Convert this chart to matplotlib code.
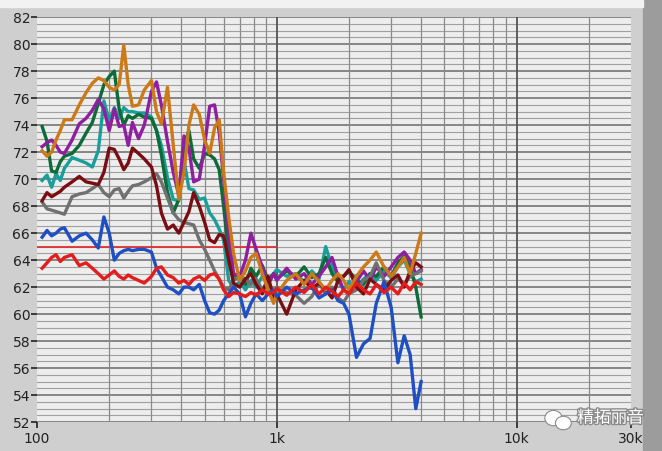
import matplotlib
matplotlib.use("Agg")
import matplotlib.pyplot as plt
import matplotlib.patheffects as pe
from matplotlib.patches import Ellipse
from matplotlib.ticker import FixedLocator, NullFormatter

# frequency points (Hz) shared by all measured curves
freq = [105, 110, 115, 120, 125, 130, 140, 150, 160, 170, 180, 190, 200, 210, 220,
        230, 240, 250, 265, 280, 300, 315, 330, 350, 370, 390, 410, 430, 450, 475,
        500, 525, 550, 575, 600, 630, 660, 700, 740, 780, 820, 870, 920, 970, 1000,
        1100, 1200, 1300, 1400, 1500, 1600, 1700, 1800, 1900, 2000, 2150, 2300, 2450,
        2600, 2800, 3000, 3200, 3400, 3600, 3800, 4000]

blue = [65.7, 66.2, 65.8, 66.0, 66.3, 66.4, 65.4, 65.8, 66.0, 65.5, 64.9, 67.2, 66.0, 64.0, 64.5,
        64.7, 64.8, 64.7, 64.8, 64.8, 64.6, 63.4, 62.8, 62.0, 61.8, 61.5, 62.0, 62.0, 61.8, 62.2,
        61.0, 60.1, 60.0, 60.3, 61.0, 61.5, 62.0, 61.5, 59.8, 60.8, 61.5, 61.0, 61.5, 61.8, 61.3,
        62.0, 61.5, 61.8, 62.0, 61.2, 61.5, 61.8, 61.0, 60.8, 60.0, 56.8, 57.8, 58.2,
        60.8, 62.4, 60.5, 56.4, 58.4, 57.0, 53.0, 55.0]

red = [63.4, 63.8, 64.2, 64.4, 63.9, 64.2, 64.4, 63.6, 63.8, 63.4, 63.0, 62.6, 62.9, 63.2, 62.8,
       62.6, 62.9, 62.7, 62.5, 62.3, 62.8, 63.4, 63.5, 62.9, 62.7, 62.3, 62.5, 62.2, 62.6, 62.8,
       62.5, 62.9, 63.0, 62.6, 61.8, 61.3, 61.6, 61.5, 61.3, 61.6, 61.4, 61.8, 61.5, 61.6, 61.9,
       61.4, 62.0, 61.6, 62.2, 61.5, 62.0, 61.7, 61.3, 61.8, 61.5, 62.3, 61.8, 61.5,
       62.2, 61.6, 62.0, 61.5, 62.3, 61.8, 62.4, 62.2]

grey = [68.3, 67.8, 67.7, 67.6, 67.5, 67.4, 68.7, 68.9, 69.0, 69.3, 69.6, 69.0, 68.7, 69.2, 69.3,
        68.6, 69.1, 69.5, 69.6, 69.8, 70.1, 70.4, 69.8, 68.6, 67.5, 67.0, 66.8, 66.7, 66.6, 65.5,
        64.8, 64.0, 63.2, 62.6, 62.0, 61.8, 62.5, 62.8, 62.6, 62.2, 62.6, 61.8, 62.4, 61.5, 62.0,
        61.6, 61.4, 60.8, 61.3, 62.3, 61.5, 62.0, 61.2, 60.9, 61.5, 61.8, 62.5, 62.8,
        63.8, 62.5, 62.0, 62.6, 62.2, 62.8, 63.0, 63.2]

maroon = [68.4, 69.0, 68.7, 68.9, 69.1, 69.4, 69.8, 70.2, 69.8, 69.7, 69.6, 70.5, 72.3, 72.2, 71.5,
          70.7, 71.2, 72.3, 71.9, 71.5, 70.9, 69.5, 67.5, 66.3, 66.6, 66.0, 66.8, 67.6, 69.0, 68.0,
          66.8, 65.5, 65.3, 65.9, 65.8, 64.0, 62.3, 62.0, 62.6, 63.0, 62.2, 61.5, 62.8, 61.2, 61.5,
          60.0, 61.8, 62.5, 61.9, 62.3, 61.8, 61.2, 62.5, 62.8, 63.3, 62.0, 61.5, 62.6,
          62.2, 61.8, 62.5, 62.9, 62.0, 63.2, 63.8, 63.5]

teal = [69.9, 70.3, 69.4, 70.4, 69.9, 70.8, 71.6, 71.4, 71.2, 70.9, 72.1, 75.8, 74.3, 75.3, 74.5,
        75.3, 75.0, 75.0, 74.9, 74.9, 74.6, 73.6, 72.5, 70.1, 68.5, 68.4, 71.4, 69.3, 69.2, 68.5,
        68.6, 67.5, 67.0, 66.3, 65.5, 62.5, 62.0, 62.4, 61.8, 62.5, 62.0, 62.8, 62.2, 63.0, 63.3,
        62.8, 63.0, 62.4, 63.2, 62.6, 65.0, 63.5, 62.5, 61.8, 62.4, 62.0, 62.6, 63.0,
        62.5, 63.2, 62.7, 63.5, 64.0, 63.0, 62.4, 62.6]

green = [73.9, 72.8, 70.6, 70.5, 71.3, 71.7, 71.9, 72.5, 73.4, 74.2, 75.6, 77.0, 77.6, 78.0, 75.2,
         74.0, 74.7, 74.5, 74.8, 74.6, 74.5, 73.6, 71.8, 69.0, 67.5, 68.5, 72.5, 73.6, 71.5, 70.8,
         71.9, 71.8, 71.5, 70.7, 68.0, 64.5, 62.8, 63.0, 62.2, 63.4, 62.8, 63.6, 62.5, 63.0, 62.6,
         63.2, 62.8, 63.5, 62.7, 63.0, 64.2, 63.0, 62.4, 62.8, 63.2, 62.5, 62.2, 63.0,
         62.8, 63.5, 62.8, 63.8, 64.3, 63.5, 62.0, 59.8]

purple = [72.4, 72.7, 72.9, 72.5, 72.0, 71.9, 72.9, 74.1, 74.5, 75.1, 75.9, 75.2, 73.6, 75.2, 73.9,
          74.0, 72.5, 74.2, 73.0, 74.0, 76.5, 77.2, 75.5, 72.8, 70.5, 68.8, 73.2, 72.3, 69.8, 70.0,
          72.5, 75.4, 75.5, 73.5, 70.0, 66.0, 63.0, 62.8, 64.0, 66.0, 64.8, 63.5, 62.2, 63.0, 62.5,
          63.4, 62.6, 63.0, 62.2, 62.8, 63.5, 64.2, 62.8, 61.8, 61.5, 62.4, 63.2, 62.5,
          63.5, 62.8, 63.5, 64.2, 64.6, 64.0, 63.0, 63.3]

orange = [72.1, 71.7, 72.0, 72.9, 73.6, 74.4, 74.4, 75.5, 76.4, 77.1, 77.5, 77.3, 76.8, 76.6, 77.0,
          79.9, 77.0, 75.4, 75.5, 76.6, 77.3, 75.0, 74.1, 76.8, 72.5, 68.5, 70.5, 74.0, 75.5, 74.8,
          72.9, 71.9, 73.8, 74.4, 70.5, 67.2, 64.5, 62.5, 63.2, 64.2, 64.5, 63.0, 61.8, 60.8, 61.5,
          62.5, 63.0, 62.2, 63.0, 62.4, 61.8, 62.5, 63.0, 62.5, 61.8, 62.8, 63.5, 64.0,
          64.6, 63.5, 62.8, 63.5, 64.2, 63.0, 64.5, 66.0]

# reference level line
ref_freq = [100, 1000]
ref_level = [65.0, 65.0]

yticks = list(range(52, 83, 2))
xticks = [100, 1000, 10000, 30000]
xtick_labels = ["100", "1k", "10k", "30k"]

fig = plt.figure(figsize=(6.62, 4.51), dpi=100)
fig.patch.set_facecolor("#cfcfcf")
# darker strip along the right edge
fig.patches.append(plt.Rectangle((0.972, 0), 0.028, 1, transform=fig.transFigure,
                                 color="#9c9c9c", zorder=0))
fig.patches.append(plt.Rectangle((0, 0.985), 0.972, 0.015, transform=fig.transFigure,
                                 color="#f2f2f2", zorder=0))

ax = fig.add_axes([0.056, 0.064, 0.897, 0.898])
ax.set_facecolor("#ededed")
ax.set_xscale("log")
ax.set_xlim(100, 30000)
ax.set_ylim(52, 82)

# grid
minor_y = [52 + 0.5 * i for i in range(61)]
for y in minor_y:
    if y % 2 == 0:
        ax.axhline(y, color="#6a6a6a", lw=1.1, zorder=1)
    else:
        ax.axhline(y, color="#a0a0a0", lw=0.8, zorder=1)
vlines = [m * 10 ** e for e in (2, 3) for m in range(2, 10)] + [20000]
for x in vlines:
    ax.axvline(x, color="#8a8a8a", lw=0.9, zorder=1)
for x in (1000, 10000):
    ax.axvline(x, color="#555555", lw=1.3, zorder=1)

series = [
    (teal, "#1a9e9a"),
    (green, "#0c6b38"),
    (purple, "#8e1fa0"),
    (grey, "#707070"),
    (maroon, "#7a0d12"),
    (orange, "#cc7a18"),
    (blue, "#1f4fc4"),
    (red, "#e41c1c"),
]
for vals, col in series:
    ax.plot(freq, vals, color=col, lw=2.4, solid_joinstyle="round", zorder=3)
ax.plot(ref_freq, ref_level, color="#e03030", lw=1.3, zorder=2)

ax.yaxis.set_major_locator(FixedLocator(yticks))
ax.set_yticklabels([str(t) for t in yticks])
ax.xaxis.set_major_locator(FixedLocator(xticks))
ax.xaxis.set_minor_formatter(NullFormatter())
ax.xaxis.set_minor_locator(FixedLocator([]))
ax.set_xticklabels(xtick_labels)
ax.tick_params(axis="both", labelsize=10, colors="#222222", length=4, width=1.2,
               direction="out", pad=1)
ax.tick_params(axis="x", pad=3)
for s in ax.spines.values():
    s.set_visible(False)

# watermark: chat-bubble icon and text
for cx, cy, w, h in [(0.836, 0.073, 0.026, 0.034), (0.851, 0.062, 0.024, 0.03)]:
    fig.patches.append(Ellipse((cx, cy), w, h, transform=fig.transFigure,
                               facecolor="white", edgecolor="#8a8a8a", lw=0.8, zorder=10))
fig.text(0.872, 0.063, "精拓丽音", fontsize=12, color="white",
         family=["Noto Sans CJK SC", "DejaVu Sans"],
         path_effects=[pe.withStroke(linewidth=2, foreground="#8a8a8a")], zorder=10)

fig.savefig("out.png", dpi=100, facecolor=fig.get_facecolor())
